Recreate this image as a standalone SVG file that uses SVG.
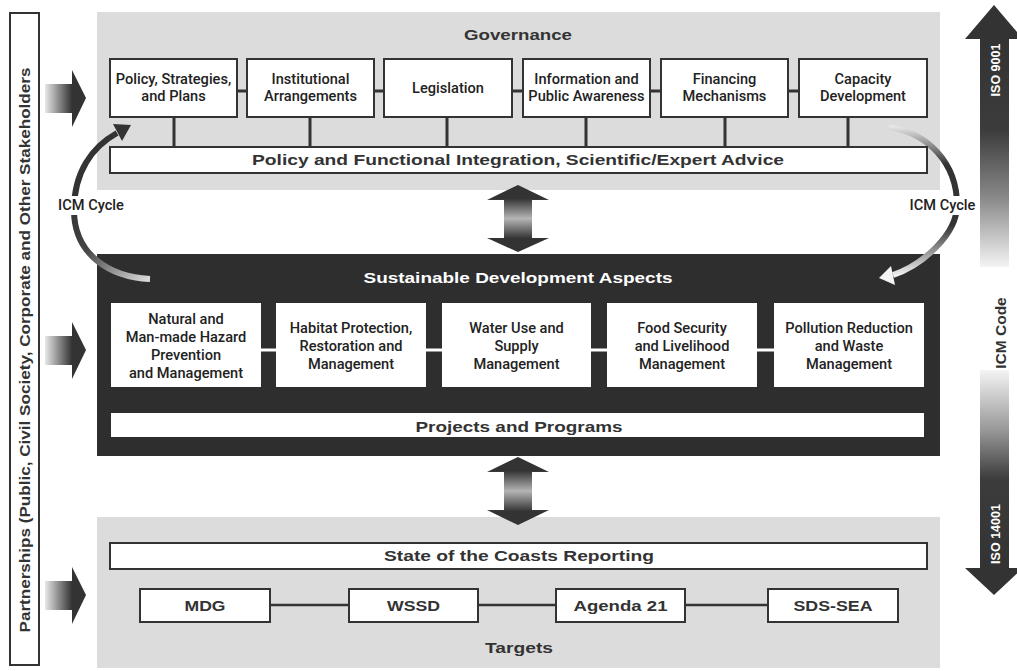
<svg xmlns="http://www.w3.org/2000/svg" width="1017" height="671" viewBox="0 0 1017 671">
<defs>
<style>
.panel{fill:#dcdcdc}
.dark{fill:#2e2e2e}
.box{fill:#fff;stroke:#333;stroke-width:2}
.wbox{fill:#fff}
.t{font-family:Roboto,"Liberation Sans",Arial,sans-serif;font-weight:500;font-size:14.6px;fill:#222;text-anchor:middle}
.h{font-family:"Liberation Sans",Arial,sans-serif;font-weight:bold;font-size:15.5px;fill:#333;text-anchor:middle}
.hw{fill:#fff}
.vw{font-family:"Liberation Sans",Arial,sans-serif;font-weight:bold;font-size:12.5px;fill:#fff;text-anchor:middle}
.link{stroke:#333;stroke-width:3;fill:none}
.tlink{stroke:#333;stroke-width:2.5;fill:none}
.wlink{stroke:#fff;stroke-width:3;fill:none}
.lblbg{fill:#fff}
</style>
<linearGradient id="gH" x1="0" y1="0" x2="1" y2="0">
<stop offset="0" stop-color="#e8e8e8"/><stop offset="1" stop-color="#333"/>
</linearGradient>
<linearGradient id="gDbl" x1="0" y1="0" x2="0" y2="1">
<stop offset="0.2" stop-color="#333"/><stop offset="0.5" stop-color="#b5b5b5"/><stop offset="0.8" stop-color="#333"/>
</linearGradient>
<linearGradient id="gTop" gradientUnits="userSpaceOnUse" x1="0" y1="39" x2="0" y2="267">
<stop offset="0" stop-color="#333"/><stop offset="0.4" stop-color="#3c3c3c"/><stop offset="0.7" stop-color="#8a8a8a"/><stop offset="1" stop-color="#f4f4f4"/>
</linearGradient>
<linearGradient id="gBot" gradientUnits="userSpaceOnUse" x1="0" y1="370" x2="0" y2="568">
<stop offset="0" stop-color="#f4f4f4"/><stop offset="0.3" stop-color="#999"/><stop offset="0.55" stop-color="#3c3c3c"/><stop offset="1" stop-color="#333"/>
</linearGradient>
<linearGradient id="gArcL" gradientUnits="userSpaceOnUse" x1="75" y1="200" x2="150" y2="279">
<stop offset="0" stop-color="#333"/><stop offset="0.4" stop-color="#444"/><stop offset="1" stop-color="#dcdcdc"/>
</linearGradient>
<linearGradient id="gArcR" gradientUnits="userSpaceOnUse" x1="0" y1="127" x2="0" y2="278">
<stop offset="0" stop-color="#e4e4e4"/><stop offset="0.25" stop-color="#333"/><stop offset="0.65" stop-color="#333"/><stop offset="1" stop-color="#fafafa"/>
</linearGradient>
</defs>

<rect width="1017" height="671" fill="#fff"/>

<!-- Partnerships bar -->
<g id="partnerships">
<rect x="10" y="13" width="29" height="652" fill="#fff" stroke="#333" stroke-width="2"/>
<text class="h" font-size="15" transform="translate(30,350) rotate(-90)" textLength="565" lengthAdjust="spacingAndGlyphs">Partnerships (Public, Civil Society, Corporate and Other Stakeholders</text>
</g>

<!-- Left block arrows -->
<g id="partner-arrows">
<rect x="45" y="84" width="27" height="29" fill="url(#gH)"/><polygon points="72,70 86,98 72,127" fill="#333"/>
<rect x="45" y="336" width="27" height="29" fill="url(#gH)"/><polygon points="72,322 86,350 72,379" fill="#333"/>
<rect x="45" y="581" width="27" height="29" fill="url(#gH)"/><polygon points="72,567 86,595 72,624" fill="#333"/>
</g>

<!-- Governance panel -->
<g id="governance">
<rect class="panel" x="97" y="12" width="843" height="178"/>
<text class="h" x="518" y="40" font-size="16" textLength="108" lengthAdjust="spacingAndGlyphs">Governance</text>
</g>

<!-- Sustainable development panel -->
<g id="sd-aspects">
<rect class="dark" x="97" y="254" width="843" height="202"/>
<text class="h hw" x="518" y="283" textLength="309" lengthAdjust="spacingAndGlyphs">Sustainable Development Aspects</text>
</g>

<!-- Targets panel -->
<g id="targets">
<rect class="panel" x="97" y="517" width="843" height="151"/>
<text class="h" x="519" y="653" textLength="68" lengthAdjust="spacingAndGlyphs">Targets</text>
</g>

<!-- Connectors -->
<g id="connectors">
<path class="link" d="M237,91H247M374,91H384M512,91H523M650,91H661M788,91H799"/>
<path class="link" d="M174,117V147M310,117V147M447,117V147M586,117V147M725,117V147M848,117V147"/>
<path class="wlink" d="M261,350H276M426,350H442M591,350H607M757,350H774"/>
<path class="tlink" d="M270,605H349M478,605H556M685,605H768"/>
<polygon points="518,185 549,200 532,200 532,238 549,238 518,252 487,238 504,238 504,200 487,200" fill="url(#gDbl)"/>
<polygon points="518,457 549,472 532,472 532,510 549,510 518,525 487,510 504,510 504,472 487,472" fill="url(#gDbl)"/>
<path d="M150,279 C110,277 74,255 74,210 C74,172 92,147 117,133" fill="none" stroke="url(#gArcL)" stroke-width="6"/>
<polygon points="131,125 122,141 113,124" fill="#333"/>
<path d="M889,127 C928,133 957,163 957,205 C957,235 922,265 893,275" fill="none" stroke="url(#gArcR)" stroke-width="6"/>
<polygon points="879,278 895,285 891,266" fill="#f4f4f4"/>
</g>

<g id="icm-cycle-left">
<rect class="lblbg" x="56" y="196" width="70" height="19"/>
<text class="t" x="91" y="210">ICM Cycle</text>
</g>
<g id="icm-cycle-right">
<rect class="lblbg" x="907" y="196" width="71" height="19"/>
<text class="t" x="942.5" y="210">ICM Cycle</text>
</g>

<!-- Governance boxes -->
<g id="policy"><rect class="box" x="110" y="59" width="127" height="58"/><text class="t" x="173.5" y="84">Policy, Strategies,</text><text class="t" x="173.5" y="101">and Plans</text></g>
<g id="institutional"><rect class="box" x="247" y="59" width="127" height="58"/><text class="t" x="310.5" y="84">Institutional</text><text class="t" x="310.5" y="101">Arrangements</text></g>
<g id="legislation"><rect class="box" x="384" y="59" width="128" height="58"/><text class="t" x="448" y="93">Legislation</text></g>
<g id="information"><rect class="box" x="523" y="59" width="127" height="58"/><text class="t" x="586.5" y="84">Information and</text><text class="t" x="586.5" y="101">Public Awareness</text></g>
<g id="financing"><rect class="box" x="661" y="59" width="127" height="58"/><text class="t" x="724.5" y="84">Financing</text><text class="t" x="724.5" y="101">Mechanisms</text></g>
<g id="capacity"><rect class="box" x="799" y="59" width="128" height="58"/><text class="t" x="863" y="84">Capacity</text><text class="t" x="863" y="101">Development</text></g>
<g id="integration"><rect class="box" x="110" y="147" width="817" height="26"/><text class="h" x="518" y="165" textLength="532" lengthAdjust="spacingAndGlyphs">Policy and Functional Integration, Scientific/Expert Advice</text></g>

<!-- Aspect boxes -->
<g id="hazard"><rect class="wbox" x="111" y="303" width="150" height="84"/><text class="t" x="186" y="323.5">Natural and</text><text class="t" x="186" y="341.5">Man-made Hazard</text><text class="t" x="186" y="360">Prevention</text><text class="t" x="186" y="378">and Management</text></g>
<g id="habitat"><rect class="wbox" x="276" y="303" width="150" height="84"/><text class="t" x="351" y="332.5">Habitat Protection,</text><text class="t" x="351" y="350.5">Restoration and</text><text class="t" x="351" y="368.5">Management</text></g>
<g id="water"><rect class="wbox" x="442" y="303" width="149" height="84"/><text class="t" x="516.5" y="332.5">Water Use and</text><text class="t" x="516.5" y="350.5">Supply</text><text class="t" x="516.5" y="368.5">Management</text></g>
<g id="food"><rect class="wbox" x="607" y="303" width="150" height="84"/><text class="t" x="682" y="332.5">Food Security</text><text class="t" x="682" y="350.5">and Livelihood</text><text class="t" x="682" y="368.5">Management</text></g>
<g id="pollution"><rect class="wbox" x="774" y="303" width="150" height="84"/><text class="t" x="849" y="332.5">Pollution Reduction</text><text class="t" x="849" y="350.5">and Waste</text><text class="t" x="849" y="368.5">Management</text></g>
<g id="projects"><rect class="wbox" x="111" y="413" width="813" height="24"/><text class="h" x="519" y="432" textLength="207" lengthAdjust="spacingAndGlyphs">Projects and Programs</text></g>

<!-- Targets -->
<g id="soc"><rect class="box" x="110" y="543" width="817" height="26"/><text class="h" x="519" y="561" textLength="270" lengthAdjust="spacingAndGlyphs">State of the Coasts Reporting</text></g>
<g id="mdg"><rect class="box" x="140" y="589" width="130" height="33"/><text class="h" x="205" y="611" textLength="41" lengthAdjust="spacingAndGlyphs">MDG</text></g>
<g id="wssd"><rect class="box" x="349" y="589" width="129" height="33"/><text class="h" x="413.5" y="611" textLength="53" lengthAdjust="spacingAndGlyphs">WSSD</text></g>
<g id="agenda21"><rect class="box" x="556" y="589" width="129" height="33"/><text class="h" x="620.5" y="611" textLength="94" lengthAdjust="spacingAndGlyphs">Agenda 21</text></g>
<g id="sdssea"><rect class="box" x="768" y="589" width="130" height="33"/><text class="h" x="833" y="611" textLength="79" lengthAdjust="spacingAndGlyphs">SDS-SEA</text></g>

<!-- ICM Code arrows -->
<g id="icm-code">
<rect x="980" y="39" width="29" height="228" fill="url(#gTop)"/>
<polygon points="994,5 1023,39 965,39" fill="#333"/>
<text class="vw" transform="translate(1000,70) rotate(-90)">ISO 9001</text>
<text class="h" font-size="15" transform="translate(1006,333) rotate(-90)">ICM Code</text>
<rect x="980" y="370" width="29" height="198" fill="url(#gBot)"/>
<polygon points="965,568 1023,568 994,595" fill="#333"/>
<text class="vw" transform="translate(1000,534) rotate(-90)">ISO 14001</text>
</g>
</svg>
